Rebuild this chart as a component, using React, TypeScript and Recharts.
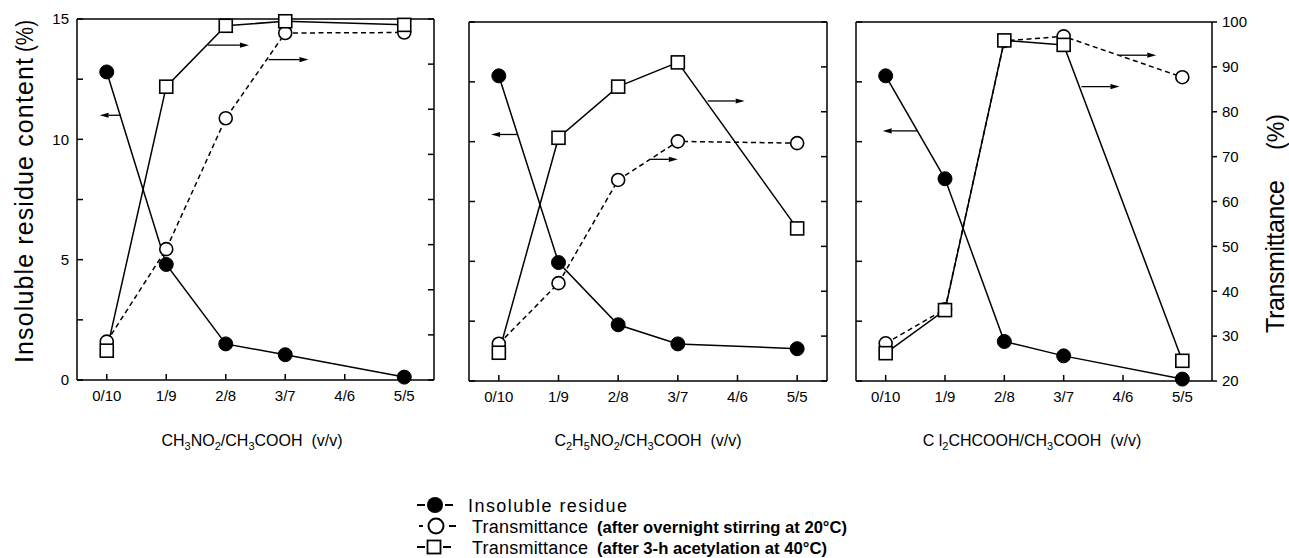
import React from 'react';
import { LineChart, Line, XAxis, YAxis, ReferenceLine } from 'recharts';

// ---------- data ----------
const ratioLabels = ['0/10', '1/9', '2/8', '3/7', '4/6', '5/5'];
const ratioTicks = [0, 1, 2, 3, 4, 5];
const measuredAt = [0, 1, 2, 3, 5];
const residueTicks = [0, 2.5, 5, 7.5, 10, 12.5, 15];
const residueLabelled = [0, 5, 10, 15];
const transTicks = [20, 30, 40, 50, 60, 70, 80, 90, 100];

// CH3NO2 / CH3COOH
const residueNitromethane = [12.8, 4.8, 1.5, 1.05, 0.12];
const overnightNitromethane = [28.5, 49.0, 78.0, 96.9, 97.0];
const acetylNitromethane = [26.5, 85.0, 98.5, 99.5, 98.7];

// C2H5NO2 / CH3COOH
const residueNitroethane = [12.75, 4.95, 2.35, 1.55, 1.35];
const overnightNitroethane = [28.3, 41.8, 64.8, 73.4, 73.0];
const acetylNitroethane = [26.3, 74.2, 85.6, 91.0, 54.0];

// Cl2CHCOOH / CH3COOH
const residueDichloro = [12.75, 8.45, 1.65, 1.05, 0.08];
const overnightDichloro = [28.4, 36.0, 95.8, 96.8, 87.7];
const acetylDichloro = [26.2, 35.8, 95.9, 94.9, 24.5];

// annotation arrows: which axis, level on that axis, from/to on the ratio axis
const arrowsNitromethane = [
  { axis: 'left', level: 11.0, from: 0.24, to: -0.12 },
  { axis: 'right', level: 94.2, from: 1.7, to: 2.39 },
  { axis: 'right', level: 91.0, from: 2.72, to: 3.39 },
];
const arrowsNitroethane = [
  { axis: 'left', level: 10.3, from: 0.32, to: -0.13 },
  { axis: 'right', level: 82.4, from: 3.5, to: 4.12 },
  { axis: 'right', level: 69.4, from: 2.55, to: 3.0 },
];
const arrowsDichloro = [
  { axis: 'left', level: 10.45, from: 0.54, to: -0.05 },
  { axis: 'right', level: 92.6, from: 3.94, to: 4.56 },
  { axis: 'right', level: 85.6, from: 3.3, to: 3.94 },
];

const buildRows = (res: number[], t20: number[], t40: number[]) =>
  measuredAt.map((x, i) => ({ x, res: res[i], t20: t20[i], t40: t40[i] }));

const rowsNitromethane = buildRows(residueNitromethane, overnightNitromethane, acetylNitromethane);
const rowsNitroethane = buildRows(residueNitroethane, overnightNitroethane, acetylNitroethane);
const rowsDichloro = buildRows(residueDichloro, overnightDichloro, acetylDichloro);

// ---------- styling ----------
const FONT = '"Liberation Sans", Arial, Helvetica, sans-serif';
const AX = { stroke: '#000', strokeWidth: 1.5 };
const NB = '\u00a0';

const ArrowShape = (props: any) => {
  const { x1, y1, x2, y2 } = props;
  const dir = x2 > x1 ? 1 : -1;
  const head = 9;
  return (
    <g>
      <line x1={x1} y1={y1} x2={x2 - dir * head} y2={y2} stroke="#000" strokeWidth={1.3} />
      <polygon
        points={`${x2},${y2} ${x2 - dir * head},${y2 - 2.6} ${x2 - dir * head},${y2 + 2.6}`}
        fill="#000"
      />
    </g>
  );
};

const SquareDot = (p: any) => {
  const { cx, cy, index } = p;
  if (cx == null || cy == null) return <g key={`sq-${index}`} />;
  return (
    <rect
      key={`sq-${index}`}
      x={cx - 6.5}
      y={cy - 6.5}
      width={13}
      height={13}
      fill="#fff"
      stroke="#000"
      strokeWidth={1.6}
    />
  );
};

type PanelProps = {
  rows: any[];
  arrows: { axis: string; level: number; from: number; to: number }[];
  left: number;
  width: number;
  margin: { top: number; right: number; bottom: number; left: number };
  leftWidth: number;
  rightWidth: number;
  showLeftLabels: boolean;
  showRightLabels: boolean;
};

function Panel(p: PanelProps) {
  return (
    <div style={{ position: 'absolute', left: p.left, top: 0 }}>
      <LineChart width={p.width} height={420} data={p.rows} margin={p.margin}>
        <XAxis
          dataKey="x"
          type="number"
          domain={[-0.5, 5.5]}
          ticks={ratioTicks}
          tickFormatter={(v: number) => ratioLabels[v]}
          axisLine={AX}
          tickLine={AX}
          tickSize={-6}
          tickMargin={16}
          height={30}
          interval={0}
          tick={{ fontSize: 15, fill: '#000', fontFamily: FONT }}
        />
        <YAxis
          yAxisId="left"
          orientation="left"
          type="number"
          domain={[0, 15]}
          ticks={residueTicks}
          interval={0}
          width={p.leftWidth}
          axisLine={AX}
          tickLine={AX}
          tickSize={-6}
          tickMargin={14}
          tickFormatter={(v: number) =>
            p.showLeftLabels && residueLabelled.includes(v) ? String(v) : ''
          }
          tick={{ fontSize: 15, fill: '#000', fontFamily: FONT }}
        />
        <YAxis
          yAxisId="right"
          orientation="right"
          type="number"
          domain={[20, 100]}
          ticks={transTicks}
          interval={0}
          width={p.rightWidth}
          axisLine={AX}
          tickLine={AX}
          tickSize={p.showRightLabels ? 5 : -6}
          tickMargin={5}
          tickFormatter={(v: number) => (p.showRightLabels ? String(v) : '')}
          tick={{ fontSize: 15, fill: '#000', fontFamily: FONT }}
        />
        <ReferenceLine yAxisId="right" y={100} stroke="#000" strokeWidth={1.5} />
        {p.arrows.map((a, i) => (
          <ReferenceLine
            key={`arr-${i}`}
            yAxisId={a.axis}
            segment={[
              { x: a.from, y: a.level },
              { x: a.to, y: a.level },
            ]}
            shape={ArrowShape}
          />
        ))}
        <Line
          yAxisId="left"
          dataKey="res"
          stroke="#000"
          strokeWidth={1.5}
          dot={{ r: 7, fill: '#000', stroke: '#000', strokeWidth: 1 }}
          isAnimationActive={false}
        />
        <Line
          yAxisId="right"
          dataKey="t20"
          stroke="#000"
          strokeWidth={1.5}
          strokeDasharray="5 3.5"
          dot={{ r: 6.5, fill: '#fff', stroke: '#000', strokeWidth: 1.6, strokeDasharray: '0' }}
          isAnimationActive={false}
        />
        <Line
          yAxisId="right"
          dataKey="t40"
          stroke="#000"
          strokeWidth={1.5}
          dot={SquareDot}
          isAnimationActive={false}
        />
      </LineChart>
    </div>
  );
}

export default function App() {
  return (
    <div
      style={{
        position: 'absolute',
        left: 0,
        top: 0,
        width: 1289,
        height: 558,
        background: '#fff',
        overflow: 'hidden',
      }}
    >
      <Panel
        rows={rowsNitromethane}
        arrows={arrowsNitromethane}
        left={0}
        width={445}
        margin={{ top: 19, right: 1, bottom: 10, left: 37 }}
        leftWidth={40}
        rightWidth={10}
        showLeftLabels={true}
        showRightLabels={false}
      />
      <Panel
        rows={rowsNitroethane}
        arrows={arrowsNitroethane}
        left={455}
        width={383}
        margin={{ top: 22, right: 1, bottom: 9, left: 4 }}
        leftWidth={10}
        rightWidth={10}
        showLeftLabels={false}
        showRightLabels={false}
      />
      <Panel
        rows={rowsDichloro}
        arrows={arrowsDichloro}
        left={842}
        width={411}
        margin={{ top: 22, right: 1, bottom: 9, left: 4 }}
        leftWidth={10}
        rightWidth={40}
        showLeftLabels={false}
        showRightLabels={true}
      />
      <svg
        width={1289}
        height={558}
        style={{ position: 'absolute', left: 0, top: 0, pointerEvents: 'none' }}
        fontFamily={FONT}
        fill="#000"
      >
        {/* y-axis titles */}
        <text transform="translate(33,363) rotate(-90)" fontSize={25} textLength={305} lengthAdjust="spacing">
          Insoluble residue content
        </text>
        <text transform="translate(33,52) rotate(-90)" fontSize={23} textLength={32} lengthAdjust="spacingAndGlyphs">
          (%)
        </text>
        <text transform="translate(1284,333) rotate(-90)" fontSize={25} textLength={153} lengthAdjust="spacing">
          Transmittance
        </text>
        <text transform="translate(1284,150) rotate(-90)" fontSize={23} textLength={36} lengthAdjust="spacingAndGlyphs">
          (%)
        </text>

        {/* x-axis titles */}
        <text x={252} y={446} fontSize={16} textAnchor="middle">
          <tspan>CH</tspan>
          <tspan dy={4} fontSize={11}>3</tspan>
          <tspan dy={-4}>NO</tspan>
          <tspan dy={4} fontSize={11}>2</tspan>
          <tspan dy={-4}>/CH</tspan>
          <tspan dy={4} fontSize={11}>3</tspan>
          <tspan dy={-4}>{`COOH${NB}${NB}(v/v)`}</tspan>
        </text>
        <text x={648} y={446} fontSize={16} textAnchor="middle">
          <tspan>C</tspan>
          <tspan dy={4} fontSize={11}>2</tspan>
          <tspan dy={-4}>H</tspan>
          <tspan dy={4} fontSize={11}>5</tspan>
          <tspan dy={-4}>NO</tspan>
          <tspan dy={4} fontSize={11}>2</tspan>
          <tspan dy={-4}>/CH</tspan>
          <tspan dy={4} fontSize={11}>3</tspan>
          <tspan dy={-4}>{`COOH${NB}${NB}(v/v)`}</tspan>
        </text>
        <text x={1032} y={446} fontSize={16} textAnchor="middle">
          <tspan>{`C${NB}l`}</tspan>
          <tspan dy={4} fontSize={11}>2</tspan>
          <tspan dy={-4}>CHCOOH/CH</tspan>
          <tspan dy={4} fontSize={11}>3</tspan>
          <tspan dy={-4}>{`COOH${NB}${NB}(v/v)`}</tspan>
        </text>

        {/* legend */}
        <g stroke="#000" strokeWidth={2}>
          <line x1={417} y1={505} x2={425} y2={505} />
          <line x1={445} y1={505} x2={453} y2={505} />
          <line x1={419} y1={526} x2={423} y2={526} />
          <line x1={449} y1={526} x2={456} y2={526} />
          <line x1={417} y1={547} x2={425} y2={547} />
          <line x1={443} y1={547} x2={451} y2={547} />
        </g>
        <circle cx={435} cy={505} r={8} fill="#000" />
        <circle cx={436} cy={526} r={7.5} fill="#fff" stroke="#000" strokeWidth={2} />
        <rect x={427.5} y={540.5} width={13} height={13} fill="#fff" stroke="#000" strokeWidth={1.8} />

        <text x={468} y={511.5} fontSize={18} textLength={159} lengthAdjust="spacing">
          Insoluble residue
        </text>
        <text x={472} y={532.5} fontSize={18} textLength={116} lengthAdjust="spacing">
          Transmittance
        </text>
        <text x={597} y={532.5} fontSize={17} fontWeight="bold" textLength={250} lengthAdjust="spacingAndGlyphs">
          (after overnight stirring at 20°C)
        </text>
        <text x={472} y={553.5} fontSize={18} textLength={116} lengthAdjust="spacing">
          Transmittance
        </text>
        <text x={597} y={553.5} fontSize={17} fontWeight="bold" textLength={230} lengthAdjust="spacingAndGlyphs">
          (after 3-h acetylation at 40°C)
        </text>
      </svg>
    </div>
  );
}
